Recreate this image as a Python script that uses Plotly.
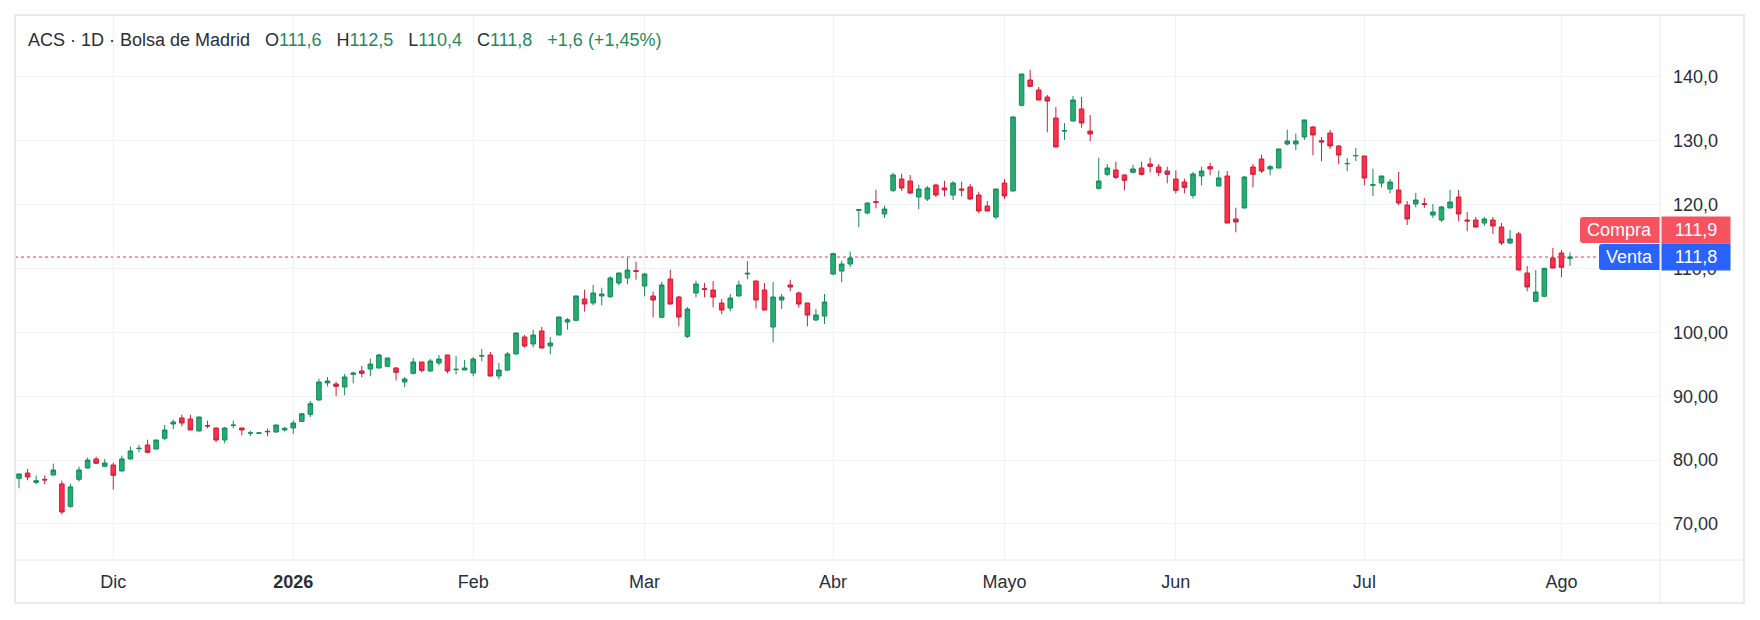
import pandas as pd
import plotly.graph_objects as go

# ACS, velas diarias (Bolsa de Madrid), 14 nov 2025 -> 4 ago 2026
holidays = ["2025-12-25", "2025-12-26", "2026-01-01", "2026-04-03", "2026-04-06", "2026-05-01"]
days = [d.strftime("%Y-%m-%d") for d in pd.bdate_range("2025-11-14", "2026-08-04")]
days = [d for d in days if d not in holidays]

opens = [
    77.15, 77.98, 76.52, 76.99, 77.67, 76.27, 72.76, 76.99, 78.77, 80.18,
    79.03, 79.24, 78.30, 80.18, 81.80, 82.37, 81.74, 83.41, 85.66, 86.60,
    86.44, 84.56, 85.40, 85.03, 83.15, 85.43, 85.03, 84.21, 84.21, 84.50,
    84.40, 84.72, 85.03, 86.07, 87.17, 89.41, 92.08, 91.92, 91.45, 93.43,
    93.96, 94.27, 94.42, 94.69, 94.42, 92.23, 93.59, 95.36, 93.96, 95.21,
    96.46, 94.17, 94.11, 93.64, 96.30, 96.46, 93.17, 94.11, 96.62, 99.28,
    98.18, 100.22, 97.87, 99.59, 101.62, 101.89, 105.23, 104.60, 105.70, 105.59,
    107.73, 108.52, 109.66, 107.26, 105.70, 102.36, 108.36, 105.54, 99.38, 106.17,
    106.85, 106.64, 104.60, 103.82, 105.70, 109.14, 108.05, 106.64, 100.84, 105.07,
    107.42, 106.17, 104.60, 101.94, 102.56, 109.14, 109.61, 110.71, 119.11, 118.70,
    120.47, 118.54, 122.24, 124.02, 123.71, 121.20, 120.89, 123.08, 122.61, 121.51,
    122.45, 122.77, 121.51, 119.79, 118.07, 123.39, 122.14, 135.56, 139.52, 137.96,
    136.86, 133.57, 131.53, 133.10, 134.98, 131.53, 122.56, 124.75, 125.43, 124.65,
    125.06, 125.74, 126.37, 125.90, 125.27, 124.02, 123.55, 121.46, 124.49, 125.95,
    122.92, 124.49, 117.76, 119.48, 125.90, 127.15, 125.59, 125.74, 129.50, 129.50,
    130.60, 132.16, 130.02, 131.22, 129.19, 126.40, 127.65, 127.62, 123.03, 123.39,
    122.45, 122.30, 119.95, 120.11, 120.16, 118.38, 117.60, 119.48, 121.20, 117.60,
    117.60, 117.13, 117.60, 116.50, 114.00, 115.41, 109.30, 104.86, 105.65, 111.65,
    112.43, 111.60,
]
highs = [
    77.85, 78.61, 77.57, 77.62, 79.45, 76.78, 76.30, 78.98, 80.39, 80.54,
    80.18, 79.60, 80.70, 82.11, 82.37, 83.20, 83.20, 85.50, 86.34, 87.12,
    87.12, 86.80, 86.18, 85.10, 85.19, 86.18, 85.10, 84.61, 84.35, 84.93,
    85.55, 85.19, 86.23, 87.30, 89.26, 92.76, 93.02, 92.29, 93.49, 93.85,
    94.74, 95.89, 96.62, 96.00, 94.58, 93.02, 95.99, 95.40, 95.83, 96.46,
    96.50, 96.30, 95.68, 96.15, 97.40, 96.93, 95.21, 96.93, 99.95, 99.59,
    100.43, 100.85, 99.28, 102.45, 102.25, 105.75, 106.69, 107.42, 107.00, 108.78,
    109.35, 111.70, 111.07, 109.30, 106.38, 107.89, 109.82, 105.70, 103.97, 108.10,
    107.73, 108.05, 105.23, 106.01, 108.10, 111.18, 108.10, 107.73, 107.89, 106.01,
    108.25, 106.38, 104.65, 103.66, 106.01, 112.48, 111.23, 112.64, 119.32, 120.30,
    122.35, 119.84, 125.01, 124.85, 124.65, 123.13, 122.92, 123.29, 123.76, 123.71,
    123.60, 123.24, 122.03, 120.57, 122.50, 124.02, 133.80, 140.50, 141.14, 138.43,
    137.17, 135.29, 132.79, 137.02, 136.86, 134.04, 127.36, 126.37, 126.73, 124.70,
    126.26, 126.73, 127.36, 126.37, 125.95, 125.38, 124.07, 125.12, 125.95, 126.58,
    125.32, 125.27, 119.53, 124.49, 126.37, 127.83, 126.26, 128.75, 131.75, 131.12,
    133.30, 132.32, 130.60, 131.69, 129.34, 127.31, 128.87, 127.65, 125.64, 124.50,
    124.02, 125.12, 120.57, 121.83, 121.05, 120.11, 119.79, 122.30, 122.30, 118.85,
    118.07, 118.07, 118.07, 117.13, 116.03, 115.72, 110.40, 109.77, 110.10, 113.22,
    112.90, 112.50,
]
lows = [
    75.58, 76.84, 76.21, 76.21, 77.60, 71.50, 72.55, 76.63, 78.70, 79.45,
    79.00, 75.37, 78.25, 80.10, 81.22, 81.07, 81.70, 83.10, 84.87, 85.29,
    84.70, 84.50, 84.98, 82.79, 82.63, 84.98, 83.88, 83.78, 84.10, 83.73,
    84.35, 84.50, 84.09, 86.00, 86.75, 89.35, 91.55, 89.99, 90.14, 92.02,
    92.96, 93.12, 94.40, 94.58, 92.49, 91.40, 93.43, 93.75, 93.80, 94.84,
    93.59, 93.43, 94.10, 93.12, 95.47, 93.10, 92.65, 93.96, 96.55, 97.61,
    97.66, 97.50, 96.56, 99.55, 100.42, 101.73, 103.24, 104.23, 104.23, 105.44,
    107.37, 107.52, 108.25, 105.64, 102.36, 102.30, 104.40, 100.95, 99.12, 105.49,
    105.49, 103.92, 102.83, 103.30, 105.65, 108.31, 103.77, 103.45, 98.44, 103.66,
    106.43, 103.87, 100.95, 101.78, 101.31, 108.98, 107.84, 110.24, 116.45, 118.49,
    119.43, 117.91, 121.98, 122.14, 121.67, 119.27, 120.57, 121.20, 121.30, 120.73,
    121.30, 120.73, 118.64, 118.95, 117.76, 120.89, 122.10, 135.40, 138.50, 136.35,
    131.33, 129.00, 130.13, 133.05, 132.01, 129.92, 122.35, 124.44, 123.97, 122.24,
    124.91, 124.59, 125.06, 124.44, 123.34, 121.77, 121.77, 120.99, 123.03, 124.59,
    122.90, 117.10, 115.67, 119.45, 122.71, 124.96, 124.59, 125.70, 129.29, 128.51,
    130.13, 127.73, 126.79, 128.72, 126.32, 125.22, 126.84, 123.03, 121.36, 122.71,
    121.78, 119.95, 116.82, 119.58, 119.48, 117.91, 117.29, 119.45, 117.39, 115.83,
    116.45, 116.66, 115.41, 113.68, 113.84, 109.70, 106.43, 104.71, 105.60, 110.05,
    108.62, 110.40,
]
closes = [
    77.83, 77.36, 76.78, 76.90, 78.45, 71.88, 75.80, 78.45, 80.02, 79.50,
    79.55, 77.62, 80.18, 81.43, 81.85, 81.22, 83.15, 84.72, 85.97, 85.81,
    84.72, 86.75, 85.35, 83.15, 85.03, 85.48, 84.72, 84.26, 84.26, 84.45,
    85.50, 84.98, 85.81, 87.27, 88.84, 92.23, 92.39, 91.55, 93.02, 93.64,
    93.59, 95.05, 96.46, 95.99, 93.75, 92.70, 95.36, 94.06, 95.52, 95.83,
    93.96, 94.22, 94.42, 95.83, 96.35, 93.17, 94.11, 96.62, 99.91, 97.87,
    99.59, 97.56, 98.34, 102.41, 101.99, 105.70, 104.44, 106.17, 106.01, 108.52,
    109.30, 109.77, 109.56, 109.14, 105.07, 107.42, 104.44, 102.41, 103.66, 107.58,
    106.74, 105.54, 103.50, 105.38, 107.42, 109.25, 105.07, 103.50, 105.54, 105.54,
    107.10, 104.44, 102.72, 102.72, 104.76, 112.33, 110.71, 111.65, 119.22, 120.26,
    120.36, 119.32, 124.65, 122.61, 121.83, 122.45, 122.61, 121.51, 122.30, 123.39,
    122.30, 120.89, 119.01, 119.01, 122.45, 121.36, 133.73, 140.46, 138.53, 136.39,
    136.23, 129.03, 131.58, 136.39, 132.79, 131.07, 123.71, 125.74, 124.28, 123.81,
    125.59, 124.75, 126.00, 125.06, 124.75, 122.24, 122.71, 124.80, 125.27, 125.59,
    124.18, 117.13, 117.29, 124.33, 124.75, 125.27, 125.95, 128.72, 129.97, 129.97,
    133.26, 130.91, 129.81, 129.19, 127.78, 126.45, 127.70, 124.18, 123.13, 124.49,
    123.55, 120.26, 117.76, 120.73, 120.05, 118.85, 119.64, 120.42, 118.54, 117.45,
    116.50, 117.76, 116.66, 114.00, 114.62, 109.77, 107.11, 106.32, 110.03, 110.08,
    110.20, 111.80,
]

month_ticks = ["2025-12-01", "2026-01-02", "2026-02-02", "2026-03-02", "2026-04-01",
               "2026-05-04", "2026-06-01", "2026-07-01", "2026-08-03"]
month_labels = ["Dic", "<b>2026</b>", "Feb", "Mar", "Abr", "Mayo", "Jun", "Jul", "Ago"]

price_ticks = [70, 80, 90, 100, 110, 120, 130, 140]
price_labels = ["70,00", "80,00", "90,00", "100,00", "110,0", "120,0", "130,0", "140,0"]

ask = 111.9   # Compra
bid = 111.8   # Venta
header_name = "ACS · 1D · Bolsa de Madrid"
change_text = "+1,6 (+1,45%)"

# page geometry (px)
W, H = 1760, 620
ML, MR, MT, MB = 15, 100, 15, 60
FONT = "Liberation Sans, Arial, sans-serif"
UP_FILL, UP_LINE = "#22ad73", "#178a58"
DN_FILL, DN_LINE = "#ff2e49", "#cc1f38"
GRID = "#f0f2f5"
EDGE = "#e9eaec"
TXT = "#2a2e39"
GREEN_TXT = "#1f8b5c"


def px_x(p):
    return (p - ML) / (W - ML - MR)


def px_y(p):
    return (H - MB - p) / (H - MT - MB)


def left_rounded_box(x0, x1, y0, y1, r):
    # path in pixels relative to the anchor, rounded on the left side only
    return ("M%g,%g L%g,%g L%g,%g L%g,%g Q%g,%g %g,%g L%g,%g Q%g,%g %g,%g Z"
            % (x1, y1, x1, y0, x0 + r, y0, x0 + r, y0, x0, y0, x0, y0 + r,
               x0, y1 - r, x0, y1, x0 + r, y1))


fig = go.Figure(go.Candlestick(
    x=days, open=opens, high=highs, low=lows, close=closes,
    increasing={"fillcolor": UP_FILL, "line": {"color": UP_LINE, "width": 1}},
    decreasing={"fillcolor": DN_FILL, "line": {"color": DN_LINE, "width": 1}},
    whiskerwidth=0, hoverinfo="skip", showlegend=False))

shapes = [
    # last price line
    {"type": "line", "xref": "paper", "yref": "y", "x0": 0, "x1": 1, "y0": bid, "y1": bid,
     "line": {"color": "#f23645", "width": 1, "dash": "dot"}, "layer": "below"},
    # outer frame and pane separators
    {"type": "rect", "xref": "paper", "yref": "paper", "x0": px_x(15), "x1": px_x(1744),
     "y0": px_y(603), "y1": px_y(15), "line": {"color": EDGE, "width": 2}},
    {"type": "line", "xref": "paper", "yref": "paper", "x0": 1, "x1": 1,
     "y0": px_y(603), "y1": 1, "line": {"color": EDGE, "width": 1}},
    {"type": "line", "xref": "paper", "yref": "paper", "x0": 0, "x1": px_x(1744),
     "y0": 0, "y1": 0, "line": {"color": EDGE, "width": 1}},
]

annotations = []
# Compra / Venta labels on the price scale
for name, value, color, left_w, dy in [("Compra", ask, "#f7525f", 80, 27), ("Venta", bid, "#2962ff", 61, 0)]:
    shapes.append({"type": "path", "xref": "paper", "yref": "y",
                   "xsizemode": "pixel", "ysizemode": "pixel",
                   "xanchor": 1, "yanchor": bid,
                   "path": left_rounded_box(-left_w, -0.5, dy - 13, dy + 13, 3),
                   "fillcolor": color, "line": {"width": 0}, "layer": "above"})
    annotations.append({"text": name, "xref": "paper", "yref": "y", "x": 1, "y": bid,
                        "xanchor": "center", "yanchor": "middle",
                        "xshift": -left_w / 2 - 0.5, "yshift": dy, "showarrow": False,
                        "font": {"color": "white", "size": 18}})
    annotations.append({"text": ("%.1f" % value).replace(".", ","), "xref": "paper", "yref": "y",
                        "x": 1, "y": bid, "xanchor": "left", "yanchor": "middle",
                        "xshift": 0.5, "yshift": dy, "showarrow": False,
                        "width": 68, "height": 26, "borderpad": 0, "align": "center",
                        "bgcolor": color, "font": {"color": "white", "size": 18}})

g = lambda s: "<span style='color:%s'>%s</span>" % (GREEN_TXT, s)
sp = "\u00a0\u00a0\u00a0"
header = (header_name + sp + "O" + g("%.1f" % opens[-1]) + sp + "H" + g("%.1f" % highs[-1]) + sp
          + "L" + g("%.1f" % lows[-1]) + sp + "C" + g("%.1f" % closes[-1]) + sp + g(change_text))
annotations.append({"text": header.replace(".", ","), "xref": "paper", "yref": "paper",
                    "x": px_x(26), "y": px_y(40), "xanchor": "left", "yanchor": "middle",
                    "showarrow": False, "font": {"color": TXT, "size": 18}})

fig.update_layout(
    width=W, height=H,
    margin={"l": ML, "r": MR, "t": MT, "b": MB},
    paper_bgcolor="white", plot_bgcolor="white",
    font={"family": FONT, "size": 18, "color": TXT},
    boxgap=0.24,
    shapes=shapes, annotations=annotations,
    xaxis={"type": "category", "range": [-0.47, 191.5], "rangeslider": {"visible": False},
           "tickmode": "array", "tickvals": month_ticks, "ticktext": month_labels,
           "showgrid": True, "gridcolor": GRID, "gridwidth": 1, "ticks": "",
           "ticklabelstandoff": 9, "showline": False, "zeroline": False,
           "tickfont": {"size": 18, "color": TXT}},
    yaxis={"side": "right", "range": [64.36, 149.7], "tickmode": "array",
           "tickvals": price_ticks, "ticktext": price_labels,
           "showgrid": True, "gridcolor": GRID, "gridwidth": 1, "ticks": "",
           "ticklabelstandoff": 12, "showline": False, "zeroline": False,
           "tickfont": {"size": 18, "color": TXT}},
    hovermode=False,
)

fig.write_html("out.html", config={"displayModeBar": False},
               post_script="document.body.style.margin='0';document.body.style.overflow='hidden';")
